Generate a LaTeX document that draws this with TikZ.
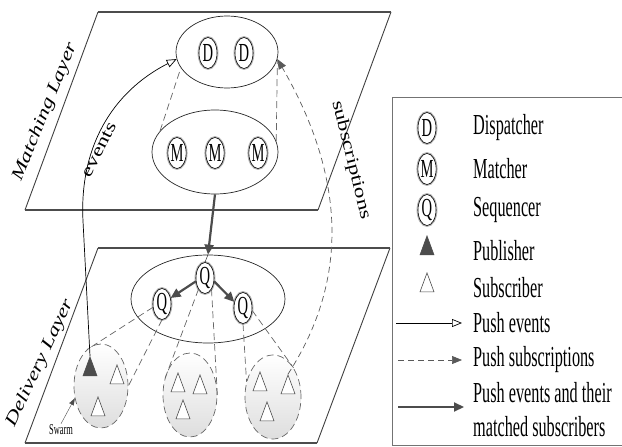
\documentclass[tikz,border=0pt]{standalone}
\usepackage{fontspec}
\setmainfont{Liberation Serif}
\usepackage{graphicx}
\usetikzlibrary{shapes.geometric,arrows.meta}
\newcommand{\narrowtext}[1]{\scalebox{0.56}[1]{#1}}
\newcommand{\flattext}[1]{\scalebox{1}[0.75]{#1}}

\begin{document}
\begin{tikzpicture}[x=1pt, y=-1pt,
    plane/.style={draw=black!75, line width=0.9pt},
    planeedge/.style={draw=black!70, line width=1.8pt},
    group/.style={ellipse, draw=black!85, line width=0.7pt, inner sep=0pt},
    unit/.style={ellipse, draw, line width=0.6pt, fill=white, inner sep=0pt, minimum width=18pt, minimum height=31pt,
        font=\fontsize{26}{26}\selectfont, preaction={draw=black!30, line width=2.8pt}},
    swarm/.style={ellipse, draw=black!60, line width=0.7pt, dash pattern=on 7pt off 4pt, top color=white,
        bottom color=black!13, inner sep=0pt, minimum width=54pt, minimum height=84pt},
    sub/.style={isosceles triangle, isosceles triangle stretches, shape border rotate=90, draw=black!70,
        line width=0.6pt, fill=white, inner sep=0pt, minimum width=14pt, minimum height=19pt},
    pub/.style={sub, fill=black!70},
    link/.style={draw=black!60, line width=0.7pt, dash pattern=on 7pt off 4pt},
    evt/.style={line width=0.7pt, -{Triangle[open, length=10pt, width=8pt]}},
    subs/.style={draw=black!65, line width=0.7pt, dash pattern=on 6pt off 4pt, -{Triangle[length=10pt, width=8pt]}},
    push/.style={draw=black!70, line width=2.2pt, -{Triangle[length=10pt, width=9pt]}},
    layertxt/.style={font=\itshape\fontsize{23}{23}\selectfont},
    pathtxt/.style={font=\fontsize{23}{23}\selectfont},
    legtxt/.style={anchor=west, font=\fontsize{29}{34}\selectfont, inner sep=0pt, align=left}]
\useasboundingbox (0,0) rectangle (622,447);

% Layers
\draw[plane] (25,210) -- (98,12) (318,210) -- (391,12);
\draw[planeedge] (25,210) -- (318,210) (98,12) -- (391,12);
\draw[plane] (25,443) -- (98,248) (317,443) -- (390,248);
\draw[planeedge] (25,443) -- (317,443) (98,248) -- (390,248);
\node[layertxt, rotate=68] (mlname) at (45,112) {\flattext{Matching Layer}};
\node[layertxt, rotate=65] (dlname) at (40,363) {\flattext{Delivery Layer}};

% Groups
\node[group, minimum width=102pt, minimum height=72pt] (dgrp) at (227,52) {};
\node[group, minimum width=126pt, minimum height=84pt] (mgrp) at (215,152) {};
\node[group, minimum width=154pt, minimum height=88pt] (qgrp) at (208,299) {};
\draw[link] (mgrp.159) -- (dgrp.199);
\draw[link] (mgrp.10) -- (dgrp.-8);

% Dispatchers, matchers, sequencers
\node[unit] (d1) at (208,53) {\narrowtext{D}};
\node[unit] (d2) at (244,53) {\narrowtext{D}};
\node[unit] (m1) at (177,153) {\narrowtext{M}};
\node[unit] (m2) at (215,153) {\narrowtext{M}};
\node[unit] (m3) at (258,153) {\narrowtext{M}};
\node[unit] (q0) at (205,278) {\narrowtext{Q}};
\node[unit] (q1) at (162,304) {\narrowtext{Q}};
\node[unit] (q2) at (243,308) {\narrowtext{Q}};

% Swarms
\node[swarm] (sw1) at (101,386) {};
\node[swarm] (sw2) at (190,395) {};
\node[swarm, minimum width=56pt] (sw3) at (273,397) {};
\node[pub] (s1p) at (90,371) {};
\node[sub] (s1a) at (117,379) {};
\node[sub] (s1b) at (98,411) {};
\node[sub] (s2a) at (178,387) {};
\node[sub] (s2b) at (200,389) {};
\node[sub] (s2c) at (183,414) {};
\node[sub] (s3a) at (260,386) {};
\node[sub] (s3b) at (288,389) {};
\node[sub] (s3c) at (267,416) {};

% Sequencers to swarms
\draw[link] (q1.200) -- (sw1.111);
\draw[link] (q1.south) -- (sw1.east);
\draw[link] (q0.240) -- (sw2.149);
\draw[link] (q0.300) -- (sw2.east);
\draw[link] (q2.south) -- (sw3.150);
\draw[link] (q2.345) -- (sw3.55);

% Pushes
\draw[push] (mgrp.south) -- (qgrp.north);
\draw[thin] (qgrp.north) -- (q0.north);
\draw[push] (q0.200) -- (q1.35);
\draw[push] (q0.340) -- (q2.145);
\draw[evt] (s1p.north) -- ++(-7,-135) to[out=93,in=207] (dgrp.188);
\draw[subs] (s3b.north) to[out=57,in=-60] (dgrp.-8);
\node[pathtxt, rotate=63] (evlbl) at (99,150) {\flattext{events}};
\node[pathtxt, rotate=-76] (sublbl) at (351,160) {\flattext{subscriptions}};

\node[font=\fontsize{15}{15}\selectfont, inner sep=1pt] (swlbl) at (61,430) {\narrowtext{Swarm}};
\draw[black!70, -{Triangle[length=7pt, width=5pt]}] (swlbl.north) -- (sw1.205);

% Legend
\fill[white] (392,97) rectangle (622,447);
\draw[black!55, line width=0.8pt] (622,97) -| (392,445) -- (622,445);
\node[unit] (lgD) at (427,128) {\narrowtext{D}};
\node[legtxt] (lgDtxt) at (473,128) {\narrowtext{Dispatcher}};
\node[unit] (lgM) at (427,169) {\narrowtext{M}};
\node[legtxt] (lgMtxt) at (473,169) {\narrowtext{Matcher}};
\node[unit] (lgQ) at (427,210) {\narrowtext{Q}};
\node[legtxt] (lgQtxt) at (473,210) {\narrowtext{Sequencer}};
\node[pub] (lgP) at (427,250) {};
\node[legtxt] (lgPtxt) at (473,251) {\narrowtext{Publisher}};
\node[sub] (lgS) at (427,287) {};
\node[legtxt] (lgStxt) at (473,288) {\narrowtext{Subscriber}};
\coordinate (lgEvA) at (396,323);
\coordinate (lgEvB) at (462,323);
\draw[evt] (lgEvA) -- (lgEvB);
\node[legtxt] (lgEvtxt) at (473,323) {\narrowtext{Push events}};
\coordinate (lgSbA) at (398,360);
\coordinate (lgSbB) at (462,360);
\draw[subs] (lgSbA) -- (lgSbB);
\node[legtxt] (lgSbtxt) at (473,360) {\narrowtext{Push subscriptions}};
\coordinate (lgPmA) at (398,407);
\coordinate (lgPmB) at (464,407);
\draw[push] (lgPmA) -- (lgPmB);
\node[legtxt] (lgPmtxt) at (473,410) {\narrowtext{Push events and their}\\\narrowtext{matched subscribers}};
\end{tikzpicture}
\end{document}
